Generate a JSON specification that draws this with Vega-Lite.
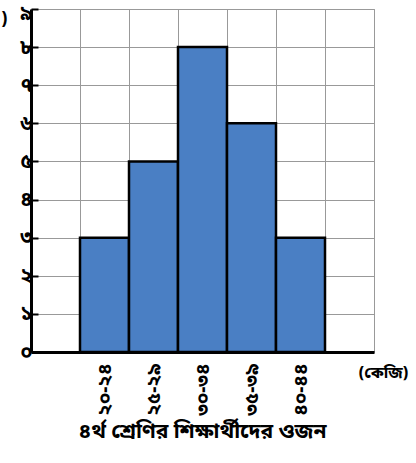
{
  "$schema": "https://vega.github.io/schema/vega-lite/v6.json",
  "autosize": "none",
  "width": 343,
  "height": 343,
  "padding": {"left": 31, "top": 9, "right": 42, "bottom": 111},
  "background": "white",
  "config": {"view": {"stroke": "#999", "strokeWidth": 1}, "font": "Noto Sans Bengali, Noto Serif Bengali, Lohit Bengali, Noto Sans"},
  "title": {"text": "৪র্থ শ্রেণির শিক্ষার্থীদের ওজন", "orient": "bottom", "fontSize": 21, "fontWeight": "bold", "color": "black", "offset": 6, "anchor": "middle"},
  "data": {"values": [
    {"range": "২০-২৪", "count": 3},
    {"range": "২৫-২৯", "count": 5},
    {"range": "৩০-৩৪", "count": 8},
    {"range": "৩৫-৩৯", "count": 6},
    {"range": "৪০-৪৪", "count": 3}
  ]},
  "mark": {"type": "bar", "fill": "#4a7fc4", "stroke": "black", "strokeWidth": 2.5, "opacity": 1},
  "encoding": {
    "x": {
      "field": "range", "type": "nominal", "sort": null,
      "scale": {"domain": ["L", "২০-২৪", "২৫-২৯", "৩০-৩৪", "৩৫-৩৯", "৪০-৪৪", "R"], "paddingInner": 0, "paddingOuter": 0},
      "axis": {
        "title": "(কেজি)", "titleX": 352, "titleY": 12, "titleAnchor": "middle", "titleFontSize": 16, "titleFontWeight": "bold", "titleColor": "black",
        "labelExpr": "datum.value == 'L' || datum.value == 'R' ? '' : datum.label",
        "labelAngle": -90, "labelFontSize": 19, "labelFontWeight": "bold", "labelColor": "black", "labelPadding": 11,
        "tickBand": "extent", "grid": true, "gridColor": "#999", "gridWidth": 1, "ticks": false,
        "domainColor": "black", "domainWidth": 3
      }
    },
    "y": {
      "field": "count", "type": "quantitative",
      "scale": {"domain": [0, 9], "nice": false},
      "axis": {
        "title": ")", "titleAngle": 0, "titleX": -27, "titleY": 1, "titleBaseline": "top", "titleFontSize": 17, "titleFontWeight": "bold", "titleColor": "black",
        "values": [0, 1, 2, 3, 4, 5, 6, 7, 8, 9],
        "labelExpr": "['০','১','২','৩','৪','৫','৬','৭','৮','৯'][datum.value]",
        "labelFontSize": 20, "labelFontWeight": "bold", "labelColor": "black", "labelPadding": 6,
        "labelOffset": {"condition": {"test": "datum.value == 9", "value": 4}, "value": 0},
        "grid": true, "gridColor": "#999", "gridWidth": 1,
        "tickSize": -7, "tickColor": "black", "tickWidth": 2,
        "domainColor": "black", "domainWidth": 3
      }
    }
  }
}
